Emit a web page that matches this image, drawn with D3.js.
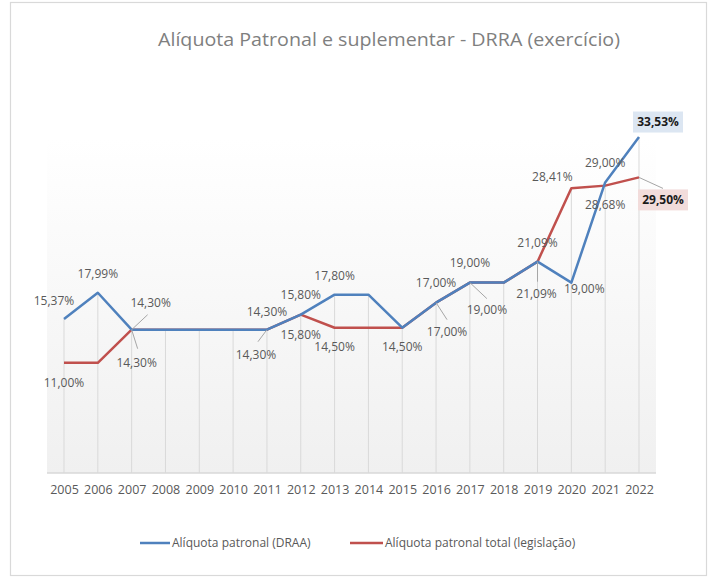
<!DOCTYPE html>
<html>
<head>
<meta charset="utf-8">
<script src="https://cdn.jsdelivr.net/npm/d3@7"></script>
<style>
  html, body { margin: 0; padding: 0; background: #fff; }
  svg { display: block; }
  text { font-family: "Open Sans", "Noto Sans", sans-serif; }
</style>
</head>
<body>
<svg id="chart" width="714" height="579"></svg>
<script>
// Categories and series
const years = ["2005","2006","2007","2008","2009","2010","2011","2012","2013",
               "2014","2015","2016","2017","2018","2019","2020","2021","2022"];
const draa  = [15.37,17.99,14.30,14.30,14.30,14.30,14.30,15.80,17.80,
               17.80,14.50,17.00,19.00,19.00,21.09,19.00,29.00,33.53];
const legis = [11.00,11.00,14.30,14.30,14.30,14.30,14.30,15.80,14.50,
               14.50,14.50,17.00,19.00,19.00,21.09,28.41,28.68,29.50];
const seriesNames = ["Alíquota patronal (DRAA)", "Alíquota patronal total (legislação)"];
const title = "Alíquota Patronal e suplementar - DRRA (exercício)";

// Data label placement: [yearIndex, dx, dy, leaderX, leaderY] (leader null = none)
const draaLabels = [
  [0, -10, -18, null, null],
  [1, 0, -19, null, null],
  [2, 19, -27, 16, -15],
  [6, 0, -18, null, null],
  [7, 0, -20, null, null],
  [8, 0, -19, null, null],
  [10, 0, 19, null, null],
  [11, 0, -20, null, null],
  [12, 0, -20, null, null],
  [14, 0, -19, null, null],
  [15, 13, 6, null, null],
  [16, 0, -20, null, null],
  [17, 19, -15, null, null]
];
const legisLabels = [
  [0, 0, 20, null, null],
  [2, 5, 33, 6, 19],
  [6, -11, 25, -9, 12],
  [7, 0, 20, null, null],
  [8, 0, 19, null, null],
  [11, 11, 29, 11, 17],
  [12, 17, 27, 17, 16],
  [14, -1, 32, 0, 20],
  [15, -19, -12, null, null],
  [16, 0, 19, null, null],
  [17, 24, 22.5, 24, 11]
];

const colors = ["#4f81bd", "#c0504d"];
const boxFill = ["#dce6f2", "#f2dcdb"];

const locale = d3.formatLocale({decimal: ",", thousands: ".", grouping: [3], currency: ["", ""]});
const fmt = v => locale.format(".2f")(v) + "%";

const svg = d3.select("#chart");

// Outer frame
svg.append("rect").attr("x", 10.5).attr("y", 2.5).attr("width", 696).attr("height", 573)
  .attr("fill", "#fff").attr("stroke", "#d9d9d9").attr("stroke-width", 1.2);

// Scales
const x = d3.scalePoint().domain(years).range([64, 639]);
const y = d3.scaleLinear().domain([0, 35]).range([473, 122.3]);
const plotLeft = 47, plotRight = 656, plotTop = 139, plotBottom = 473;

// Plot area background gradient
const defs = svg.append("defs");
const grad = defs.append("linearGradient").attr("id", "plotBg")
  .attr("x1", 0).attr("y1", 0).attr("x2", 0).attr("y2", 1);
grad.append("stop").attr("offset", "0%").attr("stop-color", "#ffffff");
grad.append("stop").attr("offset", "100%").attr("stop-color", "#f0f0f0");
svg.append("rect").attr("x", plotLeft).attr("y", plotTop)
  .attr("width", plotRight - plotLeft).attr("height", plotBottom - plotTop)
  .attr("fill", "url(#plotBg)");

// Title
svg.append("text").attr("x", 389).attr("y", 46).attr("text-anchor", "middle")
  .attr("font-size", 19).attr("fill", "#7f7f7f")
  .attr("textLength", 462).attr("lengthAdjust", "spacingAndGlyphs")
  .text(title);

// Drop lines from the highest point of each year
svg.append("g").selectAll("line").data(years).join("line")
  .attr("x1", d => x(d)).attr("x2", d => x(d))
  .attr("y1", (d, i) => y(Math.max(draa[i], legis[i])))
  .attr("y2", y(0))
  .attr("stroke", "#d9d9d9").attr("stroke-width", 1);

// Category axis
const xAxis = svg.append("g").attr("transform", `translate(0,${y(0)})`)
  .call(d3.axisBottom(x).tickSize(0).tickPadding(12));
xAxis.select(".domain").remove();
xAxis.append("line").attr("x1", plotLeft).attr("x2", plotRight)
  .attr("stroke", "#d9d9d9").attr("stroke-width", 1.3);
xAxis.selectAll(".tick text").attr("font-size", 12.5).attr("fill", "#595959")
  .attr("font-family", "'Open Sans', sans-serif");

// Lines
const line = d3.line().x((d, i) => x(years[i])).y(d => y(d));
[legis, draa].forEach((s, k) => {
  svg.append("path").datum(s).attr("d", line)
    .attr("fill", "none").attr("stroke", colors[1 - k])
    .attr("stroke-width", 2.5).attr("stroke-linejoin", "round");
});

// Data labels
function drawLabels(series, labels, k) {
  const g = svg.append("g");
  labels.forEach(([i, dx, dy, lx, ly]) => {
    const px = x(years[i]), py = y(series[i]);
    if (lx !== null) {
      g.append("line").attr("x1", px).attr("y1", py)
        .attr("x2", px + lx).attr("y2", py + ly)
        .attr("stroke", "#a6a6a6").attr("stroke-width", 1);
    }
    const last = i === years.length - 1;
    if (last) {
      g.append("rect").attr("x", px + dx - 25).attr("y", py + dy - 10.5)
        .attr("width", 50).attr("height", 21).attr("fill", boxFill[k]);
    }
    g.append("text").attr("x", px + dx).attr("y", py + dy)
      .attr("text-anchor", "middle").attr("dy", "0.35em")
      .attr("font-size", 12).attr("font-weight", last ? "bold" : "normal")
      .attr("fill", last ? "#1a1a1a" : "#595959")
      .text(fmt(series[i]));
  });
}
drawLabels(draa, draaLabels, 0);
drawLabels(legis, legisLabels, 1);

// Legend
const legend = svg.append("g");
[[140, 170, 172], [350, 383, 385]].forEach(([a, b, t], k) => {
  legend.append("line").attr("x1", a).attr("x2", b).attr("y1", 543).attr("y2", 543)
    .attr("stroke", colors[k]).attr("stroke-width", 2.5);
  legend.append("text").attr("x", t).attr("y", 543).attr("dy", "0.35em")
    .attr("font-size", 12).attr("fill", "#595959").text(seriesNames[k]);
});
</script>
</body>
</html>
